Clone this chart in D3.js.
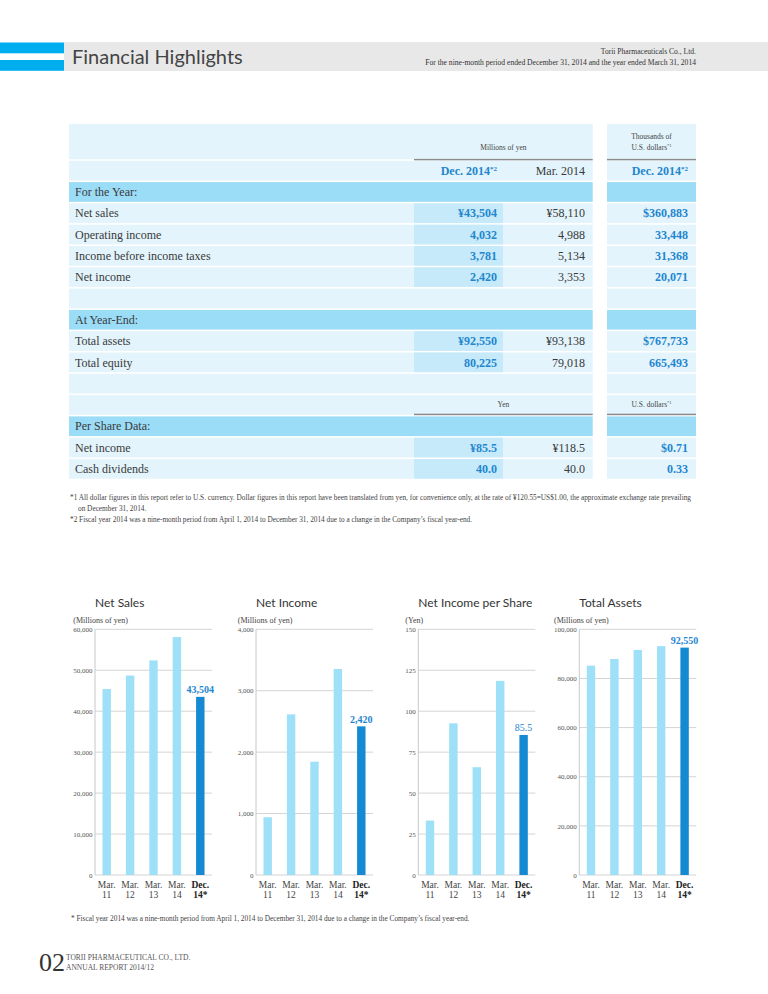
<!DOCTYPE html>
<html><head><meta charset="utf-8">
<script src="https://cdn.jsdelivr.net/npm/d3@7"></script>
<style>body{margin:0;background:#fff}svg{display:block}</style>
</head><body><svg id="c" width="768" height="994"></svg>
<script>
// ---------- DATA ----------
const sectionLabels = ["For the Year:", "At Year-End:", "Per Share Data:"];
const yearLabels  = ["Net sales", "Operating income", "Income before income taxes", "Net income"];
const yearDec2014 = ["¥43,504", "4,032", "3,781", "2,420"];
const yearMar2014 = ["¥58,110", "4,988", "5,134", "3,353"];
const yearUSD     = ["$360,883", "33,448", "31,368", "20,071"];
const endLabels   = ["Total assets", "Total equity"];
const endDec2014  = ["¥92,550", "80,225"];
const endMar2014  = ["¥93,138", "79,018"];
const endUSD      = ["$767,733", "665,493"];
const shareLabels  = ["Net income", "Cash dividends"];
const shareDec2014 = ["¥85.5", "40.0"];
const shareMar2014 = ["¥118.5", "40.0"];
const shareUSD     = ["$0.71", "0.33"];

const categories = [["Mar.", "11"], ["Mar.", "12"], ["Mar.", "13"], ["Mar.", "14"], ["Dec.", "14*"]];
const netSales          = [45400, 48700, 52400, 58110, 43504];
const netIncome         = [940, 2615, 1845, 3353, 2420];
const netIncomePerShare = [33.2, 92.6, 65.8, 118.5, 85.5];
const totalAssets       = [85200, 87900, 91600, 93138, 92550];
const salesTicks  = [0, 10000, 20000, 30000, 40000, 50000, 60000];
const incomeTicks = [0, 1000, 2000, 3000, 4000];
const epsTicks    = [0, 25, 50, 75, 100, 125, 150];
const assetsTicks = [0, 20000, 40000, 60000, 80000, 100000];
const chartTitles = ["Net Sales", "Net Income", "Net Income per Share", "Total Assets"];
const chartUnits  = ["(Millions of yen)", "(Millions of yen)", "(Yen)", "(Millions of yen)"];

// ---------- DRAW ----------
const svg = d3.select("#c");
const SERIF = "'Liberation Serif','DejaVu Serif',serif";
const SANS = "Lato,'Open Sans',sans-serif";
const BLUE = "#1f86cf";

// Header
svg.append("rect").attr("x", 64).attr("y", 42).attr("width", 704).attr("height", 29).attr("fill", "#e8e8e8");
svg.append("rect").attr("x", 0).attr("y", 42.5).attr("width", 64).attr("height", 10.8).attr("fill", "#00aeef");
svg.append("rect").attr("x", 0).attr("y", 60).attr("width", 64).attr("height", 10.8).attr("fill", "#00aeef");
svg.append("text").attr("x", 72).attr("y", 63.5).attr("font-family", SANS).attr("font-size", 20)
  .attr("fill", "#444").text("Financial Highlights");
svg.append("text").attr("x", 696).attr("y", 53.5).attr("text-anchor", "end").attr("font-family", SERIF)
  .attr("font-size", 7.6).attr("fill", "#333").text("Torii Pharmaceuticals Co., Ltd.");
svg.append("text").attr("x", 696).attr("y", 65.3).attr("text-anchor", "end").attr("font-family", SERIF)
  .attr("font-size", 7.6).attr("fill", "#333").text("For the nine-month period ended December 31, 2014 and the year ended March 31, 2014");

// Table
const L0 = 69, L1 = 592.7, H0 = 414, H1 = 503, R0 = 607, R1 = 696;
const valX = [497, 585, 688];
const P = 21.3, T0 = 160;
const LIGHT = "#e3f4fc", HIL = "#c6eaf9", SEC = "#9bdcf6", LINE = "#8a8a8a";

const rows = [{kind: "colhead"}, {kind: "section", label: sectionLabels[0]}]
  .concat(yearLabels.map((l, i) => ({kind: "data", label: l, vals: [yearDec2014[i], yearMar2014[i], yearUSD[i]]})))
  .concat([{kind: "empty"}, {kind: "section", label: sectionLabels[1]}])
  .concat(endLabels.map((l, i) => ({kind: "data", label: l, vals: [endDec2014[i], endMar2014[i], endUSD[i]]})))
  .concat([{kind: "empty"}, {kind: "unit"}, {kind: "section", label: sectionLabels[2]}])
  .concat(shareLabels.map((l, i) => ({kind: "data", label: l, vals: [shareDec2014[i], shareMar2014[i], shareUSD[i]]})));

const tg = svg.append("g");
// top header block
tg.append("rect").attr("x", L0).attr("y", 124).attr("width", L1 - L0).attr("height", 35.3).attr("fill", LIGHT);
tg.append("rect").attr("x", R0).attr("y", 124).attr("width", R1 - R0).attr("height", 35.3).attr("fill", LIGHT);
tg.append("rect").attr("x", H0).attr("y", 158.9).attr("width", L1 - H0).attr("height", 1.5).attr("fill", LINE);
tg.append("rect").attr("x", R0).attr("y", 158.9).attr("width", R1 - R0).attr("height", 1.5).attr("fill", LINE);
tg.append("text").attr("x", (H0 + L1) / 2).attr("y", 150).attr("text-anchor", "middle").attr("font-family", SERIF)
  .attr("font-size", 7.5).attr("fill", "#444").text("Millions of yen");
tg.append("text").attr("x", (R0 + R1) / 2).attr("y", 138.5).attr("text-anchor", "middle").attr("font-family", SERIF)
  .attr("font-size", 7.5).attr("fill", "#444").text("Thousands of");
const ud = tg.append("text").attr("x", (R0 + R1) / 2).attr("y", 149.5).attr("text-anchor", "middle").attr("font-family", SERIF)
  .attr("font-size", 7.5).attr("fill", "#444");
ud.append("tspan").text("U.S. dollars");
ud.append("tspan").attr("font-size", 4.5).attr("dy", -3).text("*1");

rows.forEach((r, i) => {
  const y = T0 + i * P;
  const fill = r.kind === "section" ? SEC : LIGHT;
  tg.append("rect").attr("x", L0).attr("y", y + 0.8).attr("width", L1 - L0).attr("height", P - 1.6).attr("fill", fill);
  tg.append("rect").attr("x", R0).attr("y", y + 0.8).attr("width", R1 - R0).attr("height", P - 1.6).attr("fill", fill);
  const base = y + P / 2 + 4.2;
  if (r.kind === "data") {
    tg.append("rect").attr("x", H0).attr("y", y + 0.8).attr("width", H1 - H0).attr("height", P - 1.6).attr("fill", HIL);
  }
  if (r.kind === "section" || r.kind === "data") {
    tg.append("text").attr("x", 75).attr("y", base).attr("font-family", SERIF).attr("font-size", 12)
      .attr("fill", "#3a3a3a").text(r.label);
  }
  if (r.kind === "data") {
    r.vals.forEach((v, j) => {
      tg.append("text").attr("x", valX[j]).attr("y", base).attr("text-anchor", "end").attr("font-family", SERIF)
        .attr("font-size", 12).attr("font-weight", j === 1 ? "normal" : "bold")
        .attr("fill", j === 1 ? "#3a3a3a" : BLUE).text(v);
    });
  }
  if (r.kind === "colhead") {
    const heads = [["Dec. 2014", "*2"], ["Mar. 2014", ""], ["Dec. 2014", "*2"]];
    heads.forEach((h, j) => {
      const t = tg.append("text").attr("x", valX[j]).attr("y", base).attr("text-anchor", "end").attr("font-family", SERIF)
        .attr("font-size", 12).attr("font-weight", j === 1 ? "normal" : "bold").attr("fill", j === 1 ? "#3a3a3a" : BLUE);
      t.append("tspan").text(h[0]);
      if (h[1]) t.append("tspan").attr("font-size", 7).attr("dy", -4).text(h[1]);
    });
  }
  if (r.kind === "unit") {
    tg.append("rect").attr("x", H0).attr("y", y + P - 1.9).attr("width", L1 - H0).attr("height", 1.5).attr("fill", LINE);
    tg.append("rect").attr("x", R0).attr("y", y + P - 1.9).attr("width", R1 - R0).attr("height", 1.5).attr("fill", LINE);
    tg.append("text").attr("x", (H0 + L1) / 2).attr("y", y + P / 2 + 2.5).attr("text-anchor", "middle").attr("font-family", SERIF)
      .attr("font-size", 7.5).attr("fill", "#444").text("Yen");
    const u = tg.append("text").attr("x", (R0 + R1) / 2).attr("y", y + P / 2 + 2.5).attr("text-anchor", "middle").attr("font-family", SERIF)
      .attr("font-size", 7.5).attr("fill", "#444");
    u.append("tspan").text("U.S. dollars");
    u.append("tspan").attr("font-size", 4.5).attr("dy", -3).text("*1");
  }
});

// Footnotes under table
const fn = [
  [70, 499.5, "*1 All dollar figures in this report refer to U.S. currency. Dollar figures in this report have been translated from yen, for convenience only, at the rate of ¥120.55=US$1.00, the approximate exchange rate prevailing"],
  [78, 510.5, "on December 31, 2014."],
  [70, 521.5, "*2 Fiscal year 2014 was a nine-month period from April 1, 2014 to December 31, 2014 due to a change in the Company’s fiscal year-end."]
];
fn.forEach(f => svg.append("text").attr("x", f[0]).attr("y", f[1]).attr("font-family", SERIF).attr("font-size", 7.3)
  .attr("fill", "#444").text(f[2]));

// Charts
const charts = [
  {values: netSales, ticks: salesTicks, left: 95},
  {values: netIncome, ticks: incomeTicks, left: 256},
  {values: netIncomePerShare, ticks: epsTicks, left: 418.3},
  {values: totalAssets, ticks: assetsTicks, left: 579.3}
];
const TOP = 629.3, BOT = 875, PW = 117;
charts.forEach((c, k) => {
  const g = svg.append("g");
  const x = d3.scaleBand().domain(d3.range(categories.length)).range([c.left, c.left + PW])
    .paddingInner(0.64).paddingOuter(0.32);
  const y = d3.scaleLinear().domain([0, d3.max(c.ticks)]).range([BOT, TOP]);
  // grid
  g.selectAll(".grid").data(c.ticks).join("line")
    .attr("x1", c.left).attr("x2", c.left + PW).attr("y1", d => y(d)).attr("y2", d => y(d))
    .attr("stroke", "#d4d4d4").attr("stroke-width", 1);
  g.append("line").attr("x1", c.left).attr("x2", c.left).attr("y1", TOP).attr("y2", BOT)
    .attr("stroke", "#c8c8c8").attr("stroke-width", 1);
  const ax = g.append("g").attr("transform", `translate(${c.left},0)`)
    .call(d3.axisLeft(y).tickValues(c.ticks).tickFormat(d3.format(",")).tickSize(0).tickPadding(2.5));
  ax.select(".domain").remove();
  ax.selectAll("text").attr("font-family", SERIF).attr("font-size", 7).attr("fill", "#555");
  const axBox = ax.node().getBBox();
  // bars
  g.selectAll(".bar").data(c.values).join("rect")
    .attr("x", (d, i) => x(i)).attr("width", x.bandwidth())
    .attr("y", d => y(d)).attr("height", d => BOT - y(d))
    .attr("fill", (d, i) => i === c.values.length - 1 ? "#1589d2" : "#9de0f8");
  // highlight label
  const last = c.values.length - 1;
  g.append("text").attr("x", x(last) + x.bandwidth() / 2).attr("y", y(c.values[last]) - 3.8)
    .attr("text-anchor", "middle").attr("font-family", SERIF).attr("font-size", 10)
    .attr("font-weight", k === 2 ? "normal" : "bold").attr("fill", BLUE)
    .text(d3.format(",")(c.values[last]));
  // x labels
  categories.forEach((cat, i) => {
    const t = g.append("text").attr("x", x(i) + x.bandwidth() / 2).attr("text-anchor", "middle")
      .attr("font-family", SERIF).attr("font-size", 9.5)
      .attr("font-weight", i === last ? "bold" : "normal").attr("fill", i === last ? "#222" : "#444");
    t.append("tspan").attr("x", x(i) + x.bandwidth() / 2).attr("y", 887.5).text(cat[0]);
    t.append("tspan").attr("x", x(i) + x.bandwidth() / 2).attr("y", 897.8).text(cat[1]);
  });
  // title & unit
  g.append("text").attr("x", c.left).attr("y", 607).attr("font-family", SANS).attr("font-size", 12)
    .attr("fill", "#333").text(chartTitles[k]);
  g.append("text").attr("x", c.left + axBox.x).attr("y", 622.5).attr("font-family", SERIF).attr("font-size", 8)
    .attr("fill", "#444").text(chartUnits[k]);
});

// bottom footnote & page footer
svg.append("text").attr("x", 71).attr("y", 921).attr("font-family", SERIF).attr("font-size", 7.3).attr("fill", "#444")
  .text("* Fiscal year 2014 was a nine-month period from April 1, 2014 to December 31, 2014 due to a change in the Company’s fiscal year-end.");
svg.append("text").attr("x", 39).attr("y", 971).attr("font-family", SERIF).attr("font-size", 26).attr("fill", "#333").text("02");
svg.append("text").attr("x", 66).attr("y", 959.5).attr("font-family", SERIF).attr("font-size", 7.5).attr("fill", "#555")
  .text("TORII PHARMACEUTICAL CO., LTD.");
svg.append("text").attr("x", 66).attr("y", 969.5).attr("font-family", SERIF).attr("font-size", 7.5).attr("fill", "#555")
  .text("ANNUAL REPORT 2014/12");
</script></body></html>
